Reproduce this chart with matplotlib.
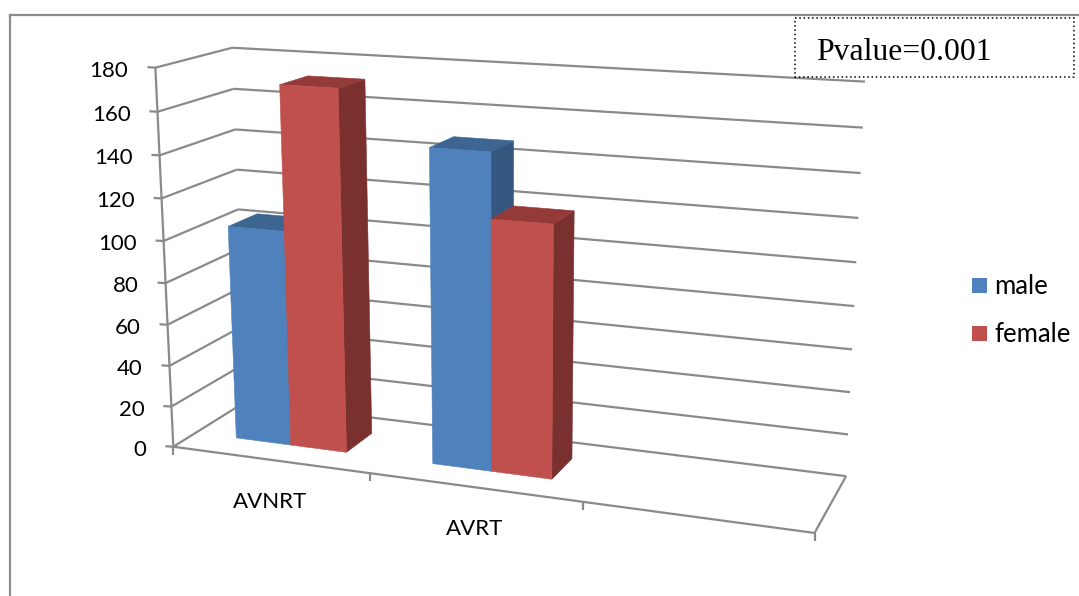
import numpy as np
import matplotlib
matplotlib.use("Agg")
import matplotlib.pyplot as plt
from matplotlib.patches import Polygon, Rectangle

# Chart data
categories = ["AVNRT", "AVRT"]
male = [104, 148]
female = [172, 118]
value_ticks = [0, 20, 40, 60, 80, 100, 120, 140, 160, 180]
annotation = "Pvalue=0.001"

# Bar footprint inside each category, in category / depth units
bar_start = 0.215
bar_width = 0.285
depth_front = 0.30
depth_back = 0.70
n_slots = 3

GRID = "#8A8A8A"
BLUE = {"front": "#4F81BD", "top": "#3C6591", "side": "#34567F"}
RED = {"front": "#C0504D", "top": "#943A38", "side": "#7A302E"}

# Camera matrix for the 3D box: (category, depth, value) -> pixels
P = np.array([
    [182.697, 89.908, -0.14356, 173.318],
    [8.4272, -15.4066, -2.12509, 446.737],
    [-0.03811, 0.07325, -0.00028234, 1.0],
])


def project(x, d, v):
    q = P @ np.array([x, d, v, 1.0])
    return q[0] / q[2], q[1] / q[2]


def draw_line(ax, a, b, lw=1.6):
    ax.plot([a[0], b[0]], [a[1], b[1]], color=GRID, lw=lw, solid_capstyle="butt", zorder=2)


def draw_bar(ax, x0, x1, value, colors, zorder):
    d0, d1 = depth_front, depth_back
    front = [project(x0, d0, 0), project(x1, d0, 0), project(x1, d0, value), project(x0, d0, value)]
    side = [project(x1, d0, 0), project(x1, d1, 0), project(x1, d1, value), project(x1, d0, value)]
    top = [project(x0, d0, value), project(x1, d0, value), project(x1, d1, value), project(x0, d1, value)]
    for pts, key in [(side, "side"), (top, "top"), (front, "front")]:
        ax.add_patch(Polygon(pts, closed=True, fc=colors[key], ec=colors[key], lw=0.4, zorder=zorder))


fig = plt.figure(figsize=(10.79, 5.96), dpi=100)
ax = fig.add_axes([0, 0, 1, 1])
ax.set_xlim(0, 1079)
ax.set_ylim(596, 0)
ax.axis("off")

# Outer chart frame, only top and left are visible
ax.plot([9.5, 1079], [15, 15], color="#8C8C8C", lw=1.6, zorder=1)
ax.plot([9.5, 9.5], [15, 596], color="#8C8C8C", lw=1.6, zorder=1)

# Gridlines on the side wall and the back wall
for v in value_ticks:
    draw_line(ax, project(0, 0, v), project(0, 1, v))
    draw_line(ax, project(0, 1, v), project(n_slots, 1, v))
    tick_end = project(0, 0, v)
    draw_line(ax, (tick_end[0] - 8, tick_end[1] - 0.5), tick_end)
    ax.text(tick_end[0] - 27, tick_end[1] + 3, str(v), ha="right", va="center",
            family="Lato", fontsize=16, color="black", zorder=6)

# Value axis and floor outline
draw_line(ax, project(0, 0, 0), project(0, 0, value_ticks[-1]))
draw_line(ax, project(0, 0, 0), project(n_slots, 0, 0))
draw_line(ax, project(n_slots, 0, 0), project(n_slots, 1, 0))

# Category tick marks under the front edge
for i in range(n_slots + 1):
    px, py = project(i, 0, 0)
    draw_line(ax, (px, py), (px, py + 8))

# Bars, drawn left to right so each one overlaps the side of the previous
for i in range(len(categories)):
    draw_bar(ax, i + bar_start, i + bar_start + bar_width, male[i], BLUE, 3 + 2 * i)
    draw_bar(ax, i + bar_start + bar_width, i + bar_start + 2 * bar_width, female[i], RED, 4 + 2 * i)
    px, py = project(i + 0.5, 0, 0)
    ax.text(px, py + 42, categories[i], ha="center", va="center",
            family="Lato", fontsize=16, color="black", zorder=6)

# Legend
for y, color, label in [(278, BLUE["front"], "male"), (326, RED["front"], "female")]:
    ax.add_patch(Rectangle((972, y), 15, 15, fc=color, ec="none", zorder=6))
    ax.text(994, y + 8, label, ha="left", va="center", family="Lato", fontsize=18.5, color="black", zorder=6)

# Annotation box
ax.add_patch(Rectangle((795, 18), 279, 59, fc="white", ec="black", lw=1.1,
                       ls=(0, (1, 1.8)), zorder=7))
ax.text(816, 52, annotation, ha="left", va="center", family="Liberation Serif",
        fontsize=22.8, color="black", zorder=8)

fig.savefig("out.png", dpi=100)
